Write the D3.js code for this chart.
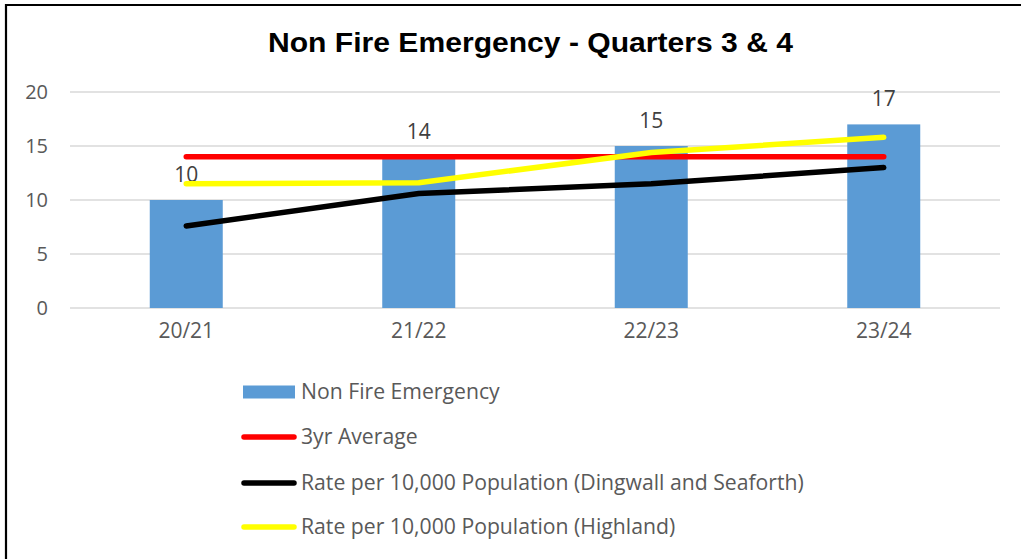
<!DOCTYPE html>
<html><head><meta charset="utf-8">
<script src="https://cdn.jsdelivr.net/npm/d3@7"></script>
<style>body{margin:0;background:#fff;} svg{display:block;}</style>
</head><body>
<svg id="c" width="1021" height="559"></svg>
<script>
const categories = ["20/21","21/22","22/23","23/24"];
const nonFire = [10,14,15,17];
const avg3yr = [14,14,14,14];
const rateDingwall = [7.6,10.6,11.5,13.0];
const rateHighland = [11.5,11.6,14.4,15.8];
const yTicks = [0,5,10,15,20];
const title = "Non Fire Emergency - Quarters 3 & 4";
const legendLabels = ["Non Fire Emergency","3yr Average","Rate per 10,000 Population (Dingwall and Seaforth)","Rate per 10,000 Population (Highland)"];

const svg = d3.select("#c");
const font = "'Open Sans', sans-serif";
svg.append("rect").attr("width",1021).attr("height",559).attr("fill","#fff");
svg.append("path").attr("d","M6,559 V5 H1021").attr("fill","none").attr("stroke","#000").attr("stroke-width",2.2);

svg.append("text").attr("x",268).attr("y",52)
  .attr("font-family","'Liberation Sans', Arial, sans-serif").attr("font-weight","bold")
  .attr("font-size",28).attr("fill","#000")
  .attr("textLength",525).attr("lengthAdjust","spacingAndGlyphs").text(title);

const x = d3.scaleBand().domain(categories).range([70,1000]).paddingInner(0).paddingOuter(0);
const y = d3.scaleLinear().domain([0,20]).range([308,92]);

svg.append("g").selectAll("line").data(yTicks).join("line")
  .attr("x1",70).attr("x2",1000).attr("y1",d=>y(d)).attr("y2",d=>y(d))
  .attr("stroke","#d9d9d9").attr("stroke-width",1.3);

const yAxis = svg.append("g").attr("transform","translate(56,0)")
  .call(d3.axisLeft(y).tickValues(yTicks).tickSize(0).tickPadding(0));
yAxis.select(".domain").remove();
yAxis.selectAll("text").attr("font-family",font).attr("font-size",20).attr("fill","#595959").attr("dx",-8);

const xAxis = svg.append("g").attr("transform","translate(0,319)")
  .call(d3.axisBottom(x).tickSize(0).tickPadding(0));
xAxis.select(".domain").remove();
xAxis.selectAll("text").attr("font-family",font).attr("font-size",21).attr("fill","#595959").attr("dy","0.9em");

const bw = 73;
svg.append("g").selectAll("rect").data(nonFire).join("rect")
  .attr("x",(d,i)=>x(categories[i])+x.bandwidth()/2-bw/2).attr("width",bw)
  .attr("y",d=>y(d)).attr("height",d=>y(0)-y(d)).attr("fill","#5b9bd5");

svg.append("g").selectAll("text").data(nonFire).join("text")
  .attr("x",(d,i)=>x(categories[i])+x.bandwidth()/2).attr("y",d=>y(d)-18)
  .attr("text-anchor","middle").attr("font-family",font).attr("font-size",21).attr("fill","#404040")
  .text(d=>d);

const line = d3.line().x((d,i)=>x(categories[i])+x.bandwidth()/2).y(d=>y(d));
[{v:avg3yr,c:"#ff0000"},{v:rateDingwall,c:"#000000"},{v:rateHighland,c:"#ffff00"}].forEach(s=>{
  svg.append("path").datum(s.v).attr("d",line).attr("fill","none").attr("stroke",s.c)
    .attr("stroke-width",5.5).attr("stroke-linecap","round").attr("stroke-linejoin","round");
});

const lg = svg.append("g");
const rows = [392,437,483,527];
const lcolors = ["#5b9bd5","#ff0000","#000000","#ffff00"];
legendLabels.forEach((t,i)=>{
  if(i===0){
    lg.append("rect").attr("x",243).attr("y",rows[i]-6.5).attr("width",52).attr("height",13).attr("fill",lcolors[i]);
  } else {
    lg.append("line").attr("x1",244).attr("x2",294).attr("y1",rows[i]).attr("y2",rows[i])
      .attr("stroke",lcolors[i]).attr("stroke-width",5.5).attr("stroke-linecap","round");
  }
  lg.append("text").attr("x",301).attr("y",rows[i]).attr("dy","0.35em")
    .attr("font-family",font).attr("font-size",21.2).attr("fill","#595959").text(t);
});
</script>
</body></html>
